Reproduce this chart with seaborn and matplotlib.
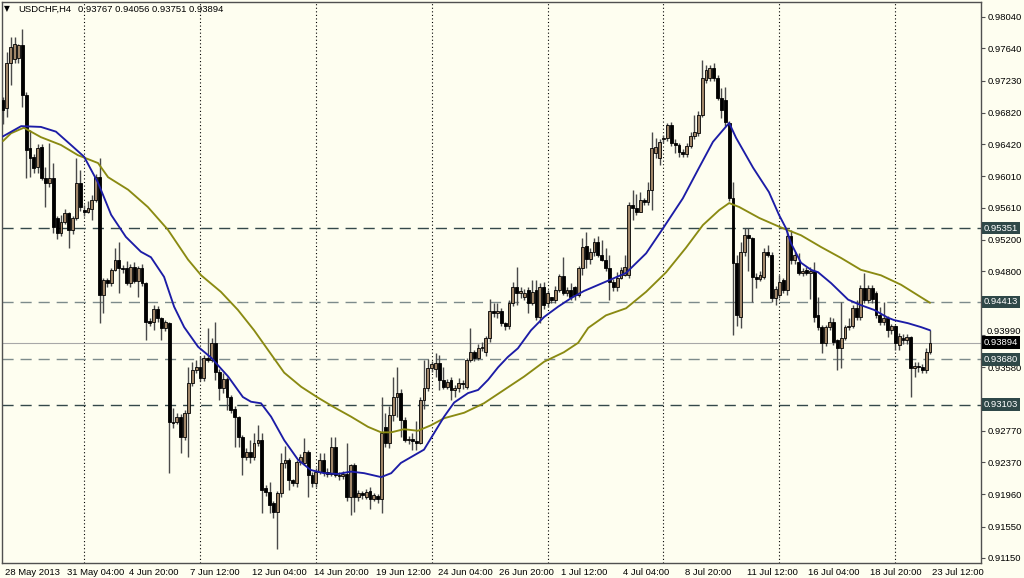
import numpy as np
import pandas as pd
import matplotlib
matplotlib.use("Agg")
import matplotlib.pyplot as plt
import seaborn as sns

# ---------------- data (prices x 10000) ----------------
symbol_text = "USDCHF,H4"
header_values = "0.93767 0.94056 0.93751 0.93894"

open_pips = [
    9698, 9688, 9745, 9750, 9752, 9768, 9705, 9637, 9626, 9613,
    9638, 9599, 9593, 9599, 9548, 9529, 9543, 9554, 9533, 9548,
    9592, 9558, 9556, 9560, 9571, 9600, 9450, 9469, 9465, 9482,
    9495, 9484, 9484, 9465, 9485, 9468, 9484, 9465, 9417, 9415,
    9432, 9420, 9408, 9414, 9288, 9288, 9295, 9269, 9300, 9338,
    9354, 9358, 9344, 9370, 9367, 9389, 9352, 9331, 9343, 9320,
    9305, 9294, 9269, 9244, 9250, 9244, 9261, 9265, 9204, 9199,
    9185, 9174, 9198, 9236, 9240, 9214, 9210, 9237, 9236, 9250,
    9221, 9210, 9225, 9240, 9225, 9222, 9256, 9221, 9219, 9222,
    9193, 9233, 9193, 9198, 9193, 9200, 9190, 9194, 9190, 9282,
    9261, 9297, 9320, 9325, 9291, 9265, 9267, 9264, 9262, 9316,
    9331, 9357, 9356, 9363, 9342, 9333, 9342, 9329, 9331, 9338,
    9333, 9367, 9377, 9370, 9382, 9377, 9395, 9430, 9427, 9430,
    9414, 9410, 9440, 9460, 9452, 9447, 9456, 9440, 9456, 9422,
    9460, 9440, 9447, 9444, 9456, 9474, 9452, 9456, 9460, 9450,
    9484, 9512, 9496, 9505, 9518, 9501, 9495, 9484, 9466, 9460,
    9472, 9476, 9476, 9565, 9561, 9556, 9571, 9568, 9584, 9631,
    9624, 9648, 9650, 9666, 9644, 9641, 9632, 9629, 9640, 9652,
    9656, 9679, 9724, 9726, 9739, 9726, 9701, 9698, 9669, 9574,
    9491, 9422, 9505, 9526, 9522, 9473, 9470, 9473, 9505, 9501,
    9446, 9450, 9469, 9456, 9525, 9495, 9492, 9478, 9482, 9478,
    9481, 9424, 9409, 9389, 9409, 9416, 9392, 9382, 9395, 9409,
    9411, 9433, 9422, 9459, 9444, 9459, 9452, 9425, 9416, 9420,
    9405, 9410, 9386, 9395, 9392, 9396, 9357, 9360, 9358, 9355,
    9376.7,
]
high_pips = [
    9702, 9759, 9779, 9778, 9770, 9789, 9708, 9660, 9630, 9642,
    9642, 9613, 9644, 9618, 9550, 9552, 9560, 9556, 9550, 9624,
    9609, 9565, 9570, 9577, 9604, 9624, 9472, 9472, 9484, 9510,
    9517, 9488, 9493, 9490, 9492, 9487, 9490, 9466, 9420, 9437,
    9436, 9422, 9418, 9416, 9306, 9300, 9298, 9304, 9358, 9365,
    9367, 9372, 9374, 9408, 9395, 9416, 9356, 9350, 9345, 9322,
    9308, 9296, 9272, 9255, 9265, 9274, 9284, 9274, 9208, 9212,
    9187, 9200, 9249, 9257, 9242, 9216, 9240, 9248, 9268, 9253,
    9224, 9230, 9249, 9249, 9230, 9269, 9269, 9225, 9226, 9261,
    9235, 9236, 9202, 9200, 9203, 9205, 9198, 9197, 9320, 9300,
    9308, 9346, 9358, 9330, 9295, 9270, 9274, 9290, 9320, 9367,
    9368, 9366, 9376, 9373, 9358, 9343, 9345, 9335, 9344, 9342,
    9370, 9408, 9380, 9388, 9390, 9398, 9445, 9440, 9440, 9433,
    9416, 9443, 9466, 9486, 9460, 9458, 9460, 9469, 9469, 9465,
    9466, 9456, 9448, 9462, 9477, 9498, 9460, 9465, 9462, 9487,
    9523, 9530, 9510, 9522, 9525, 9520, 9510, 9501, 9470, 9479,
    9486, 9501, 9568, 9584, 9578, 9581, 9574, 9594, 9658, 9650,
    9648, 9654, 9669, 9670, 9648, 9644, 9636, 9643, 9657, 9679,
    9684, 9749, 9743, 9743, 9745, 9730, 9714, 9715, 9672, 9594,
    9501, 9518, 9535, 9535, 9524, 9478, 9481, 9510, 9513, 9505,
    9462, 9476, 9472, 9532, 9533, 9505, 9503, 9484, 9486, 9486,
    9492, 9448, 9412, 9412, 9422, 9420, 9394, 9441, 9412, 9420,
    9437, 9444, 9463, 9478, 9463, 9463, 9455, 9435, 9441, 9423,
    9413, 9412, 9402, 9400, 9400, 9398, 9364, 9364, 9362, 9383,
    9405.6,
]
low_pips = [
    9668, 9677, 9717, 9745, 9745, 9689, 9599, 9600, 9605, 9605,
    9596, 9562, 9588, 9529, 9521, 9525, 9540, 9510, 9528, 9545,
    9557, 9550, 9555, 9545, 9568, 9414, 9427, 9460, 9462, 9480,
    9452, 9478, 9463, 9460, 9465, 9447, 9462, 9393, 9410, 9405,
    9415, 9393, 9404, 9223, 9280, 9285, 9249, 9265, 9244, 9334,
    9350, 9340, 9340, 9365, 9365, 9342, 9316, 9325, 9303, 9300,
    9256, 9256, 9221, 9240, 9236, 9240, 9258, 9172, 9194, 9172,
    9166, 9126, 9193, 9230, 9202, 9207, 9206, 9234, 9233, 9193,
    9205, 9206, 9222, 9220, 9218, 9220, 9218, 9214, 9215, 9188,
    9170, 9173, 9188, 9190, 9190, 9178, 9187, 9185, 9172, 9256,
    9255, 9290, 9295, 9269, 9263, 9260, 9253, 9253, 9260, 9305,
    9328, 9352, 9345, 9329, 9330, 9330, 9316, 9320, 9327, 9330,
    9330, 9364, 9366, 9367, 9378, 9372, 9390, 9422, 9420, 9410,
    9405, 9406, 9436, 9437, 9446, 9444, 9427, 9437, 9418, 9414,
    9432, 9435, 9440, 9440, 9454, 9450, 9449, 9444, 9444, 9448,
    9475, 9484, 9490, 9500, 9498, 9493, 9480, 9444, 9455, 9455,
    9470, 9474, 9472, 9545, 9552, 9556, 9565, 9565, 9558, 9625,
    9616, 9644, 9646, 9640, 9631, 9626, 9626, 9626, 9637, 9648,
    9652, 9676, 9720, 9722, 9722, 9698, 9675, 9665, 9570, 9399,
    9411, 9408, 9500, 9481, 9441, 9459, 9468, 9470, 9498, 9441,
    9437, 9446, 9452, 9450, 9490, 9490, 9475, 9474, 9475, 9445,
    9416, 9405, 9376, 9385, 9405, 9386, 9354, 9357, 9392, 9405,
    9408, 9418, 9418, 9440, 9440, 9440, 9420, 9412, 9412, 9396,
    9400, 9380, 9380, 9388, 9388, 9320, 9345, 9352, 9350, 9351,
    9375.1,
]
close_pips = [
    9686, 9745, 9766, 9770, 9768, 9705, 9635, 9624, 9612, 9637,
    9599, 9593, 9599, 9537, 9529, 9543, 9554, 9533, 9548, 9593,
    9562, 9556, 9561, 9571, 9600, 9450, 9469, 9465, 9482, 9495,
    9484, 9483, 9465, 9485, 9468, 9484, 9465, 9415, 9414, 9432,
    9420, 9408, 9416, 9288, 9287, 9295, 9269, 9300, 9338, 9354,
    9358, 9344, 9370, 9367, 9389, 9352, 9331, 9343, 9320, 9303,
    9294, 9269, 9244, 9250, 9244, 9261, 9265, 9202, 9199, 9182,
    9174, 9198, 9236, 9240, 9214, 9210, 9237, 9244, 9250, 9221,
    9210, 9225, 9240, 9225, 9222, 9256, 9221, 9219, 9222, 9193,
    9233, 9193, 9198, 9195, 9199, 9190, 9195, 9190, 9274, 9261,
    9297, 9320, 9325, 9291, 9265, 9267, 9264, 9262, 9316, 9331,
    9357, 9362, 9363, 9342, 9333, 9339, 9329, 9331, 9338, 9336,
    9367, 9377, 9370, 9382, 9384, 9395, 9430, 9427, 9430, 9414,
    9410, 9440, 9460, 9452, 9455, 9453, 9440, 9454, 9422, 9460,
    9437, 9452, 9444, 9456, 9474, 9452, 9456, 9447, 9450, 9484,
    9511, 9496, 9505, 9518, 9501, 9495, 9484, 9466, 9460, 9472,
    9482, 9486, 9565, 9561, 9556, 9571, 9568, 9584, 9637, 9639,
    9645, 9650, 9666, 9644, 9641, 9632, 9629, 9640, 9652, 9658,
    9679, 9726, 9737, 9739, 9726, 9701, 9686, 9670, 9574, 9491,
    9424, 9505, 9526, 9522, 9473, 9470, 9476, 9505, 9501, 9446,
    9458, 9466, 9456, 9525, 9495, 9501, 9478, 9480, 9478, 9481,
    9422, 9409, 9389, 9409, 9416, 9390, 9382, 9395, 9409, 9411,
    9433, 9422, 9459, 9444, 9459, 9445, 9425, 9416, 9420, 9405,
    9410, 9389, 9398, 9392, 9396, 9357, 9360, 9358, 9355, 9377,
    9389.4,
]

# moving averages (bar position, price x 10000)
ma_fast_bar = [0, 4.7, 9.8, 13.7, 17.6, 21.0, 24.6, 28.0, 31.8, 35.7,
               38.3, 41.7, 44.3, 46.9, 50.5, 53.9, 58.3, 62.1, 64.2, 66.8,
               69.4, 72.8, 76.4, 79.7, 83.1, 86.7, 90.1, 93.5, 97.9, 100.5,
               103.0, 109.0, 111.6, 114.2, 116.8, 120.4, 123.0, 125.6, 128.2, 130.7,
               133.3, 136.7, 140.1, 143.7, 147.1, 150.4, 156.1, 161.3, 166.5, 170.9,
               176.0, 180.2, 183.8, 186.4, 188.0, 189.8, 194.2, 198.3, 200.9, 202.7,
               204.0, 206.6, 209.2, 211.0, 214.4, 218.8, 222.1, 225.5, 229.1, 230.7,
               234.3, 237.7, 240.0]
ma_fast_pips = [9652, 9665, 9664, 9658, 9641, 9626, 9593, 9552, 9524, 9505,
                9498, 9473, 9435, 9409, 9384, 9370, 9346, 9320, 9314, 9312,
                9295, 9265, 9240, 9227, 9223, 9222, 9225, 9223, 9218, 9223,
                9236, 9253, 9274, 9295, 9313, 9325, 9329, 9342, 9358, 9371,
                9382, 9405, 9422, 9435, 9446, 9455, 9467, 9478, 9503, 9535,
                9573, 9612, 9645, 9660, 9669, 9650, 9612, 9581, 9552, 9535,
                9516, 9491, 9482, 9479, 9465, 9444, 9437, 9431, 9421, 9418,
                9414, 9409, 9405]
ma_slow_bar = [0, 2.1, 5.4, 9.8, 15.0, 19.4, 24.6, 27.2, 32.4, 37.5,
               42.7, 47.9, 51.3, 56.4, 60.8, 65.0, 68.6, 72.8, 77.2, 81.6,
               85.7, 90.1, 94.5, 97.9, 100.5, 103.8, 107.4, 110.8, 114.2, 119.4,
               124.5, 129.7, 134.9, 140.1, 145.2, 148.9, 151.5, 156.1, 161.3, 166.5,
               171.7, 176.8, 181.2, 185.4, 188.0, 190.6, 195.8, 200.9, 206.6, 211.8,
               217.0, 222.1, 227.3, 232.5, 237.7, 240.0]
ma_slow_pips = [9646, 9656, 9663, 9651, 9641, 9628, 9618, 9600, 9584, 9562,
                9533, 9495, 9475, 9454, 9431, 9405, 9380, 9351, 9333, 9319,
                9307, 9295, 9282, 9275, 9275, 9279, 9277, 9284, 9293, 9300,
                9312, 9329, 9346, 9365, 9377, 9389, 9408, 9424, 9433, 9454,
                9479, 9510, 9539, 9558, 9567, 9562, 9548, 9537, 9526, 9511,
                9497, 9482, 9475, 9463, 9447, 9440]

x_label_bars = [0, 16, 32, 48, 64, 80, 96, 112, 128, 144, 160, 176, 192, 208, 224, 240]
x_labels = ["28 May 2013", "31 May 04:00", "4 Jun 20:00", "7 Jun 12:00",
            "12 Jun 04:00", "14 Jun 20:00", "19 Jun 12:00", "24 Jun 04:00",
            "26 Jun 20:00", "1 Jul 12:00", "4 Jul 04:00", "8 Jul 20:00",
            "11 Jul 12:00", "16 Jul 04:00", "18 Jul 20:00", "23 Jul 12:00"]
week_start_bars = [21, 51, 81, 111, 141, 171, 201, 231]
y_tick_values = [0.98040, 0.97640, 0.97230, 0.96820, 0.96420, 0.96010, 0.95610,
                 0.95200, 0.94800, 0.94390, 0.93990, 0.93580, 0.93180, 0.92770,
                 0.92370, 0.91960, 0.91550, 0.91150]
# tick labels that the reference hides under the price boxes
y_hidden_labels = [0.94390, 0.93180]
# tick label drawn slightly raised so the current-price box does not cover it
y_raised_labels = [0.93990]
level_values = [0.95351, 0.94413, 0.93680, 0.93103]
current_price = 0.93894

# ---------------- build frames ----------------
SCALE = 10000.0
assert len(open_pips) == len(high_pips) == len(low_pips) == len(close_pips)
df = pd.DataFrame({
    "bar": np.arange(len(close_pips)),
    "open": np.array(open_pips) / SCALE,
    "high": np.array(high_pips) / SCALE,
    "low": np.array(low_pips) / SCALE,
    "close": np.array(close_pips) / SCALE,
})
fast = pd.DataFrame({"bar": ma_fast_bar, "price": np.array(ma_fast_pips) / SCALE})
slow = pd.DataFrame({"bar": ma_slow_bar, "price": np.array(ma_slow_pips) / SCALE})

# ---------------- style ----------------
sns.set_style("white")
plt.rcParams['font.family'] = ['Liberation Sans', 'DejaVu Sans']
BG = '#FEFEF0'
FS = 6.8
SPINE = '#505050'

fig = plt.figure(figsize=(10.24, 5.78), dpi=100, facecolor=BG)
ax = fig.add_axes([2 / 1024, 15 / 578, 979 / 1024, 561 / 578])
ax.set_facecolor(BG)

# vertical week separators
for b in week_start_bars:
    ax.axvline(b, color='black', lw=0.8, ls=(0, (1, 2.2)), zorder=1)

# horizontal levels
level_colors = ['#34484a', '#7d8b8b', '#7d8b8b', '#34484a']
for v, c in zip(level_values, level_colors):
    ax.axhline(v, color=c, lw=1.0, ls=(0, (8, 5)), zorder=1)
ax.axhline(current_price, color='#a8a8a8', lw=0.8, zorder=1)

# candles
up = df["close"] >= df["open"]
ax.vlines(df["bar"], df["low"], df["high"], color='#4a4a4a', lw=1.0, zorder=3)
body_bottom = np.minimum(df["open"], df["close"])
body_height = np.maximum((df["close"] - df["open"]).abs(), 0.00003)
body_colors = np.where(up, '#a08669', '#000000')
ax.bar(df["bar"], body_height, bottom=body_bottom, width=0.74,
       color=body_colors, edgecolor='black', linewidth=0.6, zorder=4)

# moving averages
sns.lineplot(data=slow, x="bar", y="price", ax=ax, color='#8a8a12', lw=1.35, zorder=5)
sns.lineplot(data=fast, x="bar", y="price", ax=ax, color='#1c1ca6', lw=1.35, zorder=6)

# limits
ax.set_xlim(-0.26, 253.2)
ax.set_ylim(0.91086, 0.98231)
ax.set_xlabel("")
ax.set_ylabel("")

for s in ax.spines.values():
    s.set_color(SPINE)
    s.set_linewidth(1.0)
    s.set_visible(True)

# x ticks
ax.set_xticks(x_label_bars)
ax.tick_params(axis='x', length=4, width=0.8, color=SPINE, direction='out', labelbottom=False)
for b, lab in zip(x_label_bars, x_labels):
    ax.annotate(lab, xy=(b, 0), xycoords=('data', 'axes fraction'),
                xytext=(1.5, -3.5), textcoords='offset points', ha='left', va='top',
                fontsize=FS, color='black', annotation_clip=False)

# y ticks on the right
ax.yaxis.tick_right()
ax.set_yticks(y_tick_values)
ax.set_yticklabels(["" if (v in y_hidden_labels or v in y_raised_labels) else f"{v:.5f}"
                    for v in y_tick_values])
ax.tick_params(axis='y', length=3, width=0.8, color=SPINE, direction='out', pad=2,
               labelsize=FS, labelcolor='black')
for v in y_raised_labels:
    ax.annotate(f"{v:.5f}", xy=(1, v), xycoords=('axes fraction', 'data'),
                xytext=(4.4, 2.8), textcoords='offset points', ha='left', va='center',
                fontsize=FS, color='black', annotation_clip=False)

# price boxes
for v in level_values:
    ax.annotate(f"{v:.5f}", xy=(1, v), xycoords=('axes fraction', 'data'),
                xytext=(2.2, 0), textcoords='offset points', ha='left', va='center',
                fontsize=FS, color='white', annotation_clip=False, zorder=20,
                bbox=dict(boxstyle='square,pad=0.18', fc='#2f4848', ec='none'))
ax.annotate(f"{current_price:.5f}", xy=(1, current_price), xycoords=('axes fraction', 'data'),
            xytext=(2.2, 0), textcoords='offset points', ha='left', va='center',
            fontsize=FS, color='white', annotation_clip=False, zorder=21,
            bbox=dict(boxstyle='square,pad=0.18', fc='#000000', ec='none'))

# header
fig.text(4 / 1024, 1 - 9 / 578, "▼", fontsize=5.5, color='black', va='center', ha='left',
         family=['DejaVu Sans'])
fig.text(18 / 1024, 1 - 9 / 578, symbol_text, fontsize=FS, color='black', va='center', ha='left')
fig.text(78 / 1024, 1 - 9 / 578, header_values, fontsize=FS, color='black', va='center', ha='left')

fig.savefig("out.png", dpi=100, facecolor=BG)
